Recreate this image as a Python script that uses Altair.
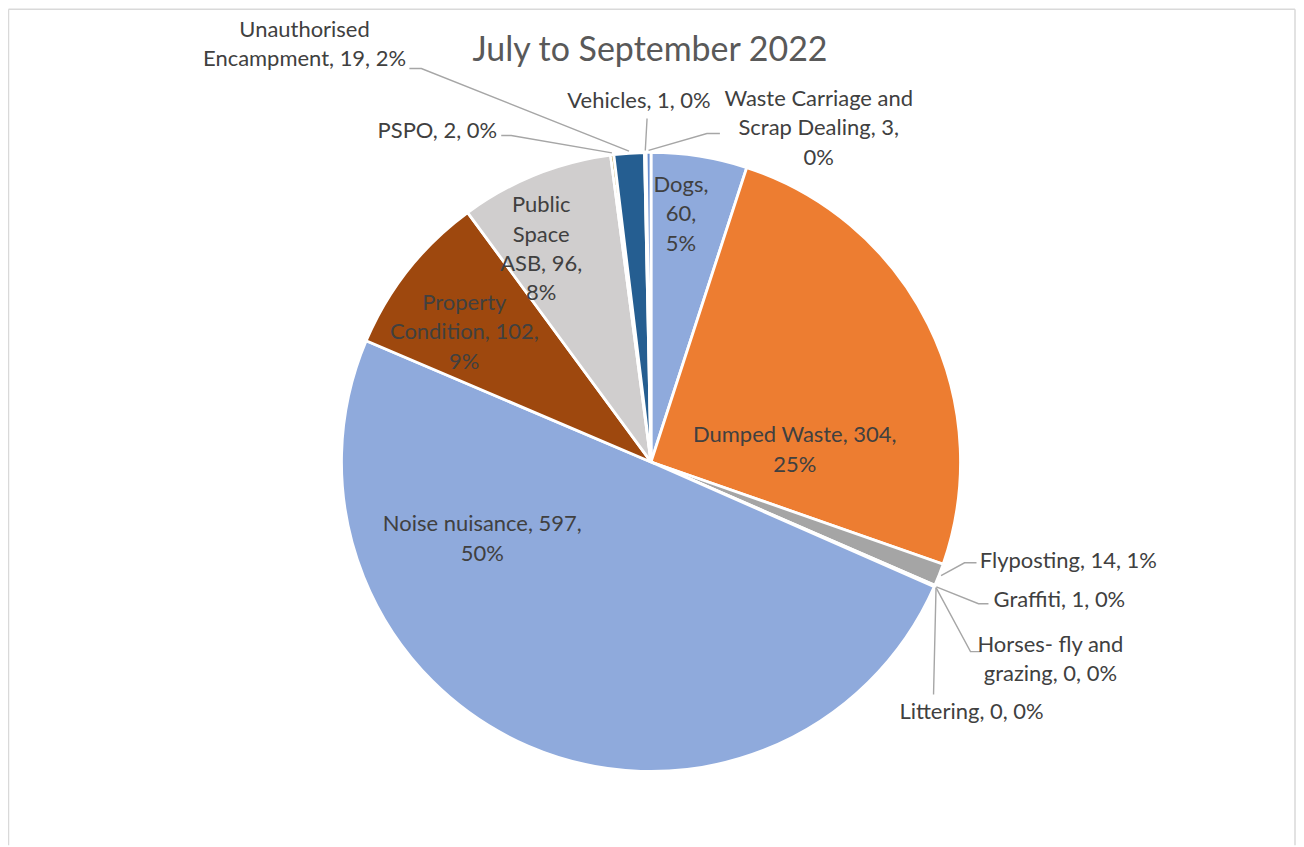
import math
import altair as alt
import pandas as pd

# ---- data ----
categories = ["Dogs", "Dumped Waste", "Flyposting", "Graffiti", "Horses- fly and grazing",
              "Littering", "Noise nuisance", "Property Condition", "Public Space ASB", "PSPO",
              "Unauthorised Encampment", "Vehicles", "Waste Carriage and Scrap Dealing"]
values = [60, 304, 14, 1, 0, 0, 597, 102, 96, 2, 19, 1, 3]
colors = ["#8FAADC", "#ED7D31", "#A5A5A5", "#FFC000", "#5B9BD5", "#70AD47", "#8FAADC",
          "#9E480E", "#D0CECE", "#997300", "#255E91", "#43682B", "#698ED0"]
# label text templates (Excel line breaks)
label_templates = ["Dogs,\n{v},\n{p}%", "Dumped Waste, {v},\n{p}%", "Flyposting, {v}, {p}%",
                   "Graffiti, {v}, {p}%", "Horses- fly and\ngrazing, {v}, {p}%", "Littering, {v}, {p}%",
                   "Noise nuisance, {v},\n{p}%", "Property\nCondition, {v},\n{p}%",
                   "Public\nSpace\nASB, {v},\n{p}%", "PSPO, {v}, {p}%",
                   "Unauthorised\nEncampment, {v}, {p}%", "Vehicles, {v}, {p}%",
                   "Waste Carriage and\nScrap Dealing, {v},\n{p}%"]
title_text = "July to September 2022"

# ---- layout (annotation placement, relative to pie centre) ----
CX, CY, R = 644, 454, 310
LH = 29.5
label_offsets = [(30, -248), (144, -12), (418, 99), (409, 138), (400, 198), (321, 250),
                 (-169, 77), (-187, -130), (-110, -213), (-214, -331), (-347, -418),
                 (-12, -361), (168, -334)]
# leader: (end at label, elbow) for outside labels
leaders = {
    "Flyposting": ((326, 101), (314, 101)),
    "Graffiti": ((338, 142), (328, 142)),
    "Horses- fly and grazing": ((330, 190), (320, 190)),
    "Littering": ((283, 233), (283, 232)),
    "PSPO": ((-150, -327), (-140, -327)),
    "Unauthorised Encampment": ((-242, -394), (-230, -394)),
    "Vehicles": ((-4, -344), (-4, -343)),
    "Waste Carriage and Scrap Dealing": ((69, -329), (56, -329)),
}

total = sum(values)
pcts = [math.floor(v / total * 100 + 0.5) for v in values]
labels = [t.format(v=v, p=p) for t, v, p in zip(label_templates, values, pcts)]

df = pd.DataFrame({"idx": range(len(categories)), "category": categories, "value": values})

lab_df = pd.DataFrame({
    "label": labels,
    "lx": [CX + o[0] for o in label_offsets],
    "ly": [CY + o[1] - (lab.count("\n")) * LH / 2 for o, lab in zip(label_offsets, labels)],
})

# leader lines: start on slice edge at mid-angle
cum = 0
mids = {}
for c, v in zip(categories, values):
    mids[c] = (cum + v / 2) / total * 2 * math.pi
    cum += v
rows = []
for c, (end, elbow) in leaders.items():
    a = mids[c]
    rows.append({"id": c, "o": 0, "x": CX + (R + 2) * math.sin(a), "y": CY - (R + 2) * math.cos(a)})
    rows.append({"id": c, "o": 1, "x": CX + elbow[0], "y": CY + elbow[1]})
    rows.append({"id": c, "o": 2, "x": CX + end[0], "y": CY + end[1]})
lead_df = pd.DataFrame(rows)

W, H = 1290, 838

pie = alt.Chart(df).mark_arc(radius=R, stroke="white", strokeWidth=2.8).encode(
    theta=alt.Theta("value:Q", stack=True),
    color=alt.Color("category:N", scale=alt.Scale(domain=categories, range=colors), legend=None),
    order=alt.Order("idx:Q"),
    x=alt.value(CX),
    y=alt.value(CY),
)

lead = alt.Chart(lead_df).mark_line(color="#A6A6A6", strokeWidth=1.4).encode(
    x=alt.X("x:Q", scale=None, axis=None),
    y=alt.Y("y:Q", scale=None, axis=None),
    detail="id:N",
    order="o:Q",
)

text = alt.Chart(lab_df).mark_text(font="Lato", fontSize=22, color="#404040", lineHeight=LH,
                                   lineBreak="\n", align="center", baseline="middle").encode(
    x=alt.X("lx:Q", scale=None, axis=None),
    y=alt.Y("ly:Q", scale=None, axis=None),
    text="label:N",
)

title = alt.Chart(pd.DataFrame({"t": [title_text]})).mark_text(
    font="Lato", fontSize=34, color="#595959", align="center", baseline="middle").encode(
    x=alt.value(643), y=alt.value(42), text="t:N")

frame_df = pd.DataFrame({"x": [0.5, 0.5, W - 1], "y": [H, 0.5, 0.5], "x2": [0.5, W - 1, W - 1], "y2": [0.5, 0.5, H]})
frame = alt.Chart(frame_df).mark_rule(color="#D9D9D9", strokeWidth=1.5).encode(
    x=alt.X("x:Q", scale=None, axis=None), y=alt.Y("y:Q", scale=None, axis=None),
    x2="x2:Q", y2="y2:Q")

chart = alt.layer(frame, pie, lead, text, title).properties(
    width=W, height=H, padding=0, autosize=alt.AutoSizeParams(type="none")
).configure_view(stroke=None)

chart.save("out.html", embed_options={"renderer": "svg", "actions": False})
